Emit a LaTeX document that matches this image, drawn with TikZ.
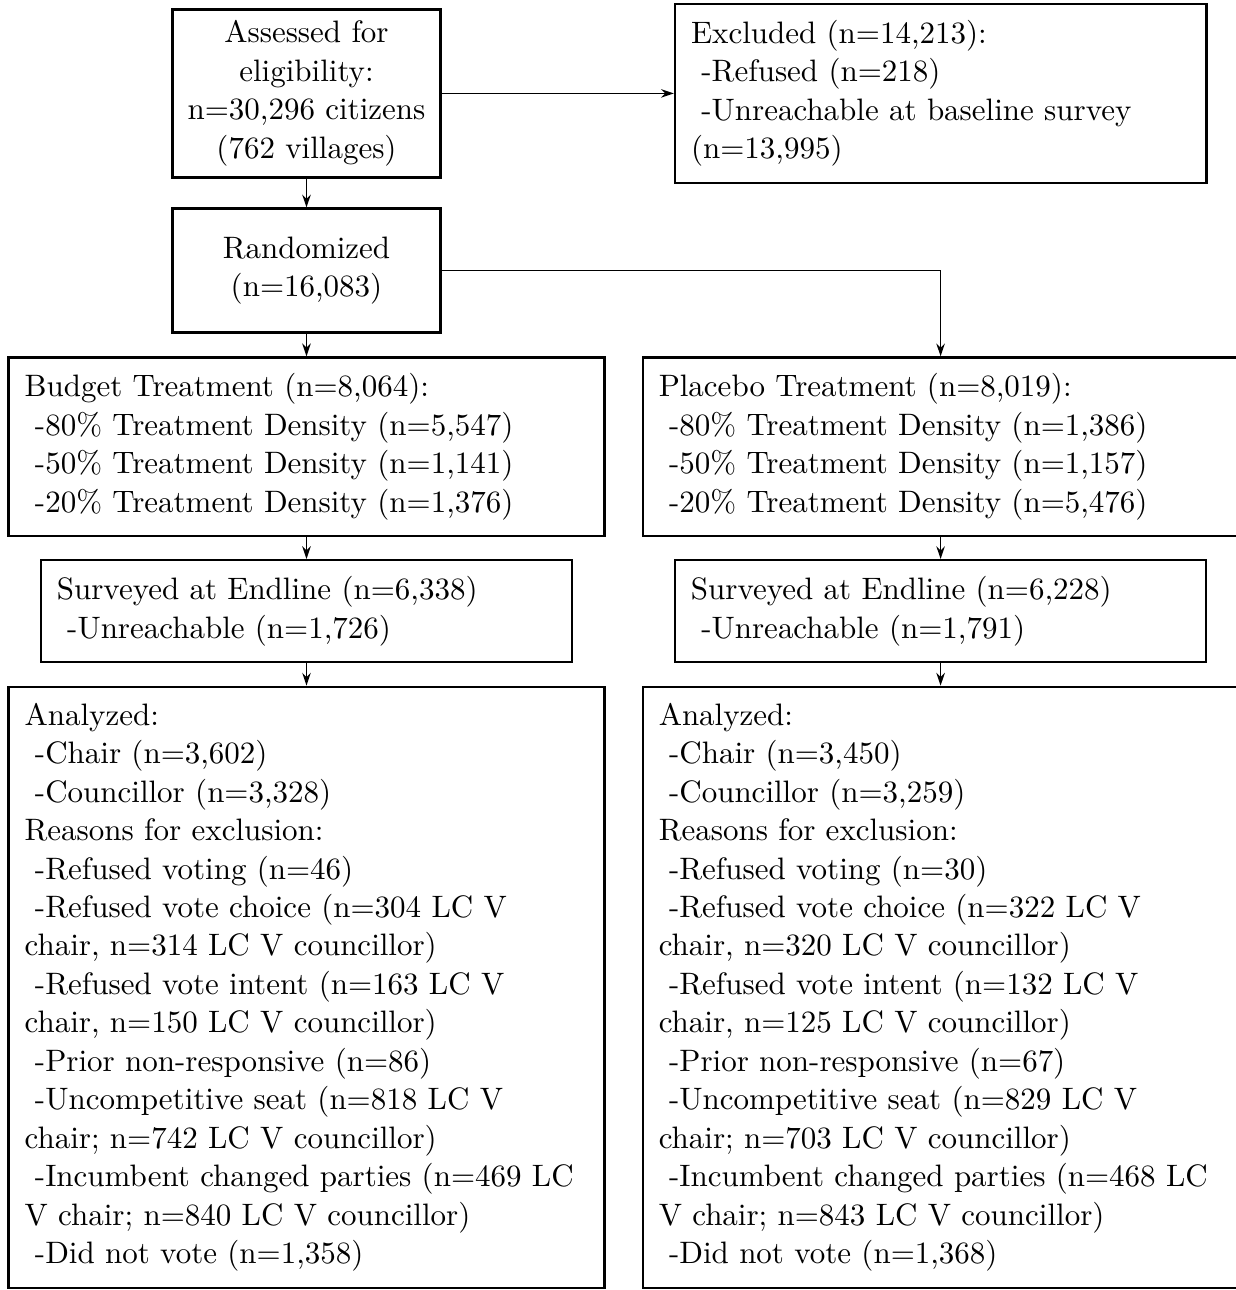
\documentclass[11pt,tikz,border=0pt]{standalone}
\usetikzlibrary{positioning,arrows.meta}

\newcommand{\subln}{\hspace*{0.333em}}

\tikzset{
    narrowbox/.style={draw,line width=0.8pt,text width=3.05cm,align=center,inner sep=4pt},
    widebox/.style={draw,line width=0.8pt,text width=7cm,align=left,inner sep=2mm},
    midbox/.style={draw,line width=0.8pt,text width=6.2cm,align=left,inner sep=2mm},
    flow/.style={semithick,-{Stealth[length=4.5pt,width=3pt]}}
}

\begin{document}
\begin{tikzpicture}
        \useasboundingbox (-108.3pt,33.0pt) rectangle (328.1pt,-422.8pt);
        %% Enrolment
        \node[narrowbox] (assessed) at (0,0) {Assessed for\\ eligibility:\\ n=30,296 citizens\\ (762 villages)};
        \node[midbox,right=82pt of assessed] (excluded) {Excluded (n=14,213):\\ \subln-Refused (n=218)\\ \subln-Unreachable at baseline survey\\ (n=13,995)};
        \node[narrowbox,minimum height=43.8pt,below=10.2pt of assessed] (randomized) {Randomized\\ (n=16,083)};
        %% Allocation
        \node[widebox,below=8pt of randomized] (budget) {Budget Treatment (n=8,064):\\ \subln-80\% Treatment Density (n=5,547)\\ \subln-50\% Treatment Density (n=1,141)\\ \subln-20\% Treatment Density (n=1,376)};
        \node[widebox,right=12.7pt of budget] (placebo) {Placebo Treatment (n=8,019):\\ \subln-80\% Treatment Density (n=1,386)\\ \subln-50\% Treatment Density (n=1,157)\\ \subln-20\% Treatment Density (n=5,476)};
        %% Follow-up
        \node[midbox,below=7.7pt of budget] (surveyb) {Surveyed at Endline (n=6,338)\\ \subln-Unreachable (n=1,726)};
        \node[midbox,below=7.7pt of placebo] (surveyp) {Surveyed at Endline (n=6,228)\\ \subln-Unreachable (n=1,791)};
        %% Analysis
        \node[widebox,below=8pt of surveyb] (analyzedb) {Analyzed:\\ \subln-Chair (n=3,602)\\ \subln-Councillor (n=3,328)\\ Reasons for exclusion:\\ \subln-Refused voting (n=46)\\ \subln-Refused vote choice (n=304 LC V\\ chair, n=314 LC V councillor)\\ \subln-Refused vote intent (n=163 LC V\\ chair, n=150 LC V councillor)\\ \subln-Prior non-responsive (n=86)\\ \subln-Uncompetitive seat (n=818 LC V\\ chair; n=742 LC V councillor)\\ \subln-Incumbent changed parties (n=469 LC\\ V chair; n=840 LC V councillor)\\ \subln-Did not vote (n=1,358)};
        \node[widebox,below=8pt of surveyp] (analyzedp) {Analyzed:\\ \subln-Chair (n=3,450)\\ \subln-Councillor (n=3,259)\\ Reasons for exclusion:\\ \subln-Refused voting (n=30)\\ \subln-Refused vote choice (n=322 LC V\\ chair, n=320 LC V councillor)\\ \subln-Refused vote intent (n=132 LC V\\ chair, n=125 LC V councillor)\\ \subln-Prior non-responsive (n=67)\\ \subln-Uncompetitive seat (n=829 LC V\\ chair; n=703 LC V councillor)\\ \subln-Incumbent changed parties (n=468 LC\\ V chair; n=843 LC V councillor)\\ \subln-Did not vote (n=1,368)};
        %% connectors
        \draw[flow] (assessed) -- (excluded);
        \draw[flow] (assessed) -- (randomized);
        \draw[flow] (randomized) -- (budget);
        \draw[flow] (randomized.east) -| (placebo.north);
        \draw[flow] (budget) -- (surveyb);
        \draw[flow] (placebo) -- (surveyp);
        \draw[flow] (surveyb) -- (analyzedb);
        \draw[flow] (surveyp) -- (analyzedp);
    \end{tikzpicture}
\end{document}
